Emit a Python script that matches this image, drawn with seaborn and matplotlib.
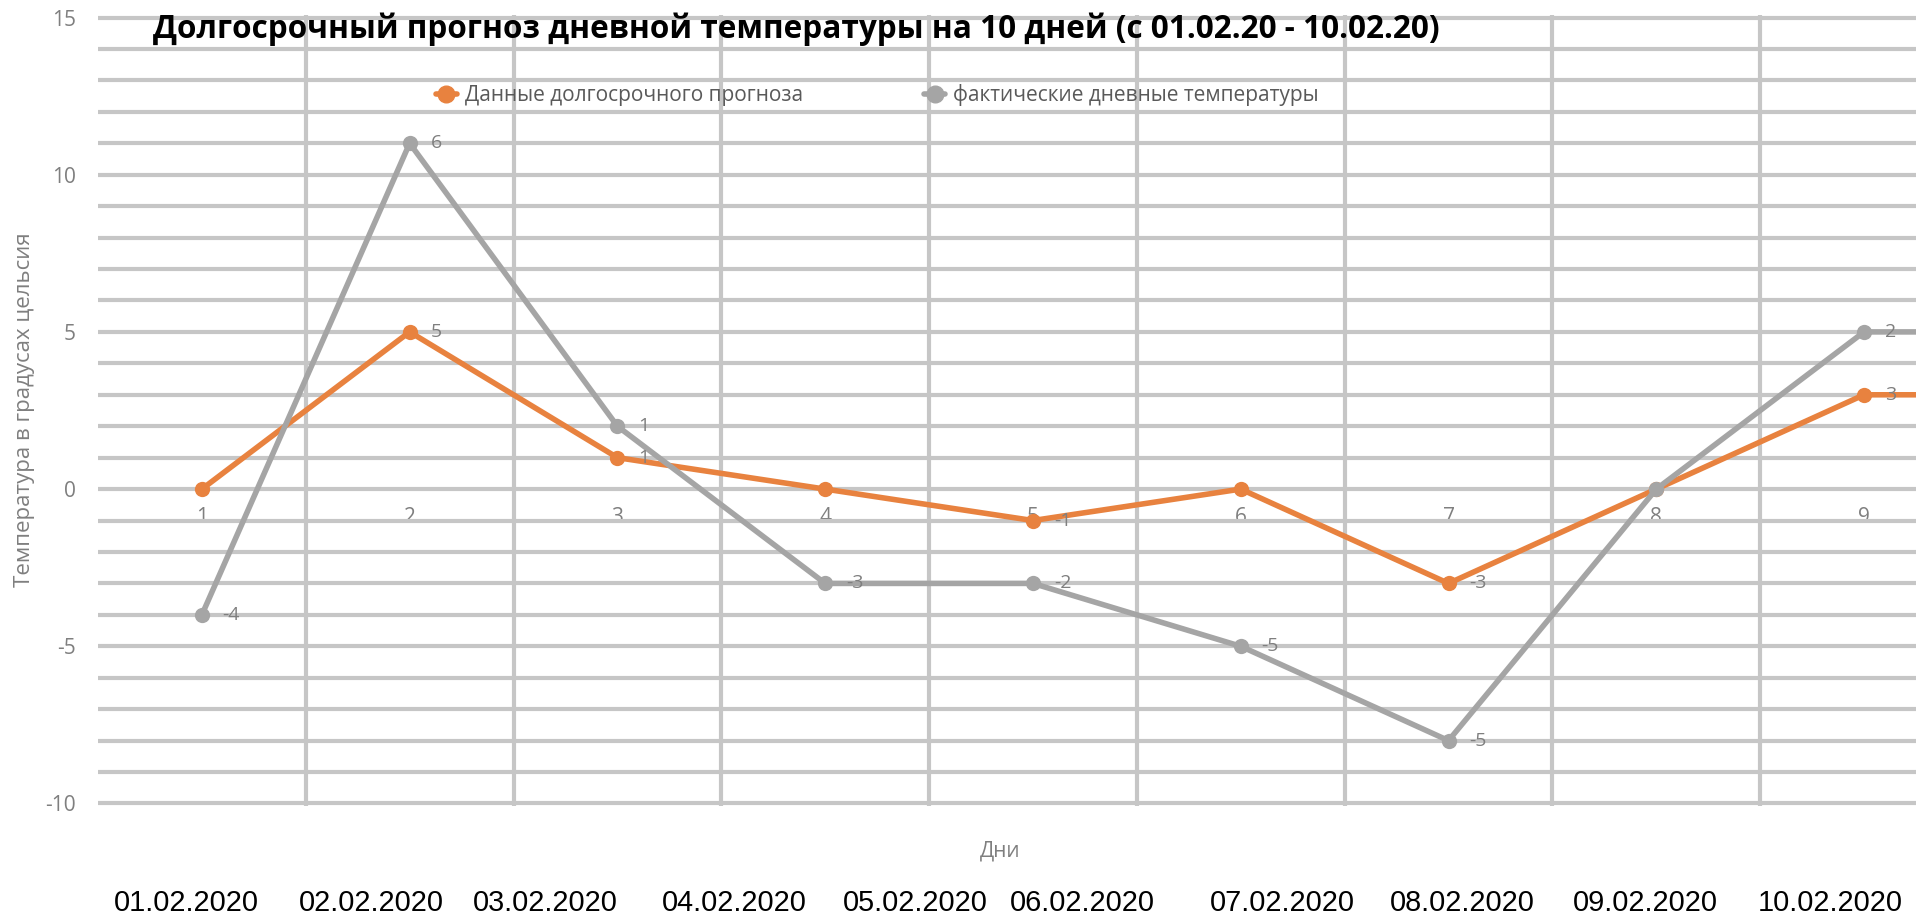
import numpy as np
import pandas as pd
import matplotlib
matplotlib.use('Agg')
import matplotlib.pyplot as plt
import seaborn as sns
from matplotlib.lines import Line2D
from matplotlib import font_manager as fm

# --- data ---
days = [1, 2, 3, 4, 5, 6, 7, 8, 9, 10]
forecast = [0, 5, 1, 0, -1, 0, -3, 0, 3, 3]       # Данные долгосрочного прогноза
actual = [-4, 6, 1, -3, -2, -5, -5, 0, 2, 2]       # фактические дневные температуры (10th is cut off, estimated)
series_names = ['Данные долгосрочного прогноза', 'фактические дневные температуры']
dates = ['01.02.2020', '02.02.2020', '03.02.2020', '04.02.2020', '05.02.2020',
         '06.02.2020', '07.02.2020', '08.02.2020', '09.02.2020', '10.02.2020']
title = 'Долгосрочный прогноз дневной температуры на 10 дней (с 01.02.20 - 10.02.20)'

# the spreadsheet cells with dates under the chart (pixel centres)
date_x = [186, 371, 545, 734, 915, 1082, 1282, 1462, 1645, 1830]

orange = '#E8823F'
gray = '#A5A5A5'
gridc = '#C6C6C6'
txtc = '#7F7F7F'

# Excel "stacked line": the second series is drawn on top of the first
stacked = np.array(forecast) + np.array(actual)

df = pd.DataFrame({
    'day': days + days,
    'value': forecast + list(stacked),
    'label': forecast + actual,
    'series': [series_names[0]] * len(days) + [series_names[1]] * len(days),
})

sns.set_theme(style='white')
plt.rcParams['font.family'] = ['Open Sans', 'DejaVu Sans']
plt.rcParams['axes.unicode_minus'] = False

W, H = 1916, 921
fig = plt.figure(figsize=(W / 100, H / 100), dpi=100)
ax = fig.add_axes([98 / W, 1 - 806 / H, 1 - 98 / W, (806 - 15) / H])

sns.lineplot(data=df, x='day', y='value', hue='series', palette=[orange, gray],
             marker='o', markersize=11, markeredgewidth=0, linewidth=4,
             legend=False, sort=False, ax=ax)

# value labels (zeros are not shown in the original)
for row in df.itertuples():
    if row.label != 0:
        ax.annotate(str(row.label), (row.day, row.value), xytext=(15, 0),
                    textcoords='offset points', ha='left', va='center',
                    fontsize=14, color=txtc)

ax.set_xlim(0.5, 9.25)
ax.set_ylim(-10.08, 15.08)
ax.set_xticks(range(1, 10))
ax.set_xticks(np.arange(1.5, 9.0, 1), minor=True)
ax.set_yticks(range(-10, 16, 5))
ax.set_yticks(range(-10, 16), minor=True)
ax.grid(False)
ax.xaxis.grid(True, which='minor', color=gridc, lw=3)
ax.yaxis.grid(True, which='both', color=gridc, lw=3)
ax.set_axisbelow(True)
for s in ax.spines.values():
    s.set_visible(False)
ax.spines['bottom'].set_position(('data', 0))
ax.tick_params(axis='both', which='both', length=0)
ax.tick_params(axis='x', pad=13, labelsize=15, labelcolor=txtc)
ax.tick_params(axis='y', pad=16, labelsize=15, labelcolor=txtc)
ax.set_xlabel('')
ax.set_ylabel('')

fig.text(796 / W, 1 - 29 / H, title, ha='center', va='center',
         fontsize=22.7, weight='bold', color='black')
fig.text(25 / W, 1 - 410 / H, 'Температура в градусах цельсия', rotation=90,
         ha='center', va='center', fontsize=16, color=txtc)
fig.text(1000 / W, 1 - 851 / H, 'Дни', ha='center', va='center', fontsize=15, color=txtc)

handles = [Line2D([0], [0], color=c, lw=4, marker='o', ms=12) for c in (orange, gray)]
fig.legend(handles, series_names, loc='center left', bbox_to_anchor=(436 / W, 1 - 95 / H),
           ncol=2, frameon=False, fontsize=15, labelcolor='#595959', handlelength=1.0,
           handletextpad=0.4, columnspacing=5.8, borderaxespad=0, borderpad=0)

# the dates are typed in a narrow font in the sheet; pick a narrow face if there is one
names = {f.name for f in fm.fontManager.ttflist}
if 'Liberation Sans Narrow' in names:
    date_font = fm.FontProperties(family='Liberation Sans Narrow', size=24)
else:
    date_font = fm.FontProperties(family='Liberation Sans', stretch='condensed', size=24)

renderer = fig.canvas.get_renderer()
for d, x in zip(dates, date_x):
    t = fig.text(x / W, 0.02, d, ha='center', va='center', color='black',
                 fontproperties=date_font.copy())
    w = t.get_window_extent(renderer).width
    if w > 144:
        t.set_fontsize(24 * 144 / w)

fig.savefig('out.png', dpi=100)
